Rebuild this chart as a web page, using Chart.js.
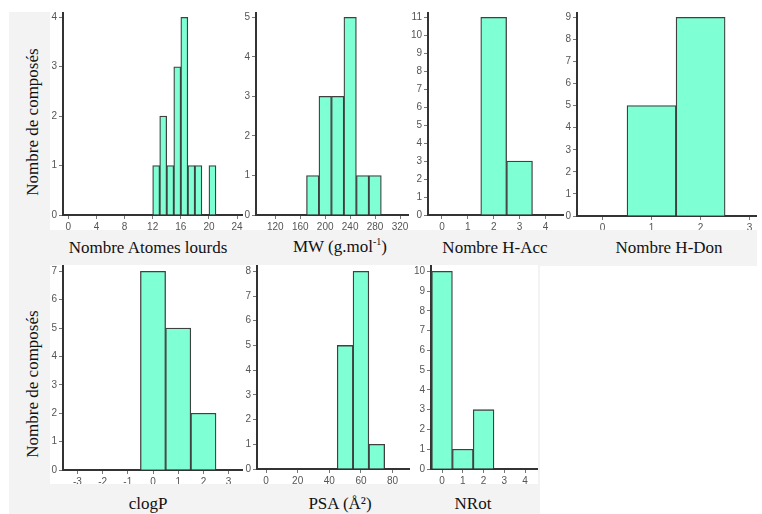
<!DOCTYPE html>
<html lang="fr">
<head>
<meta charset="utf-8">
<title>Distribution des descripteurs</title>
<script src="https://cdn.jsdelivr.net/npm/chart.js@4.4.1/dist/chart.umd.min.js"></script>
<style>
  html, body { margin: 0; padding: 0; background: #ffffff; }
  #page { position: relative; width: 762px; height: 514px; overflow: hidden; background: #ffffff; }
  .band { position: absolute; background: #f3f3f3; }
  .sheet { position: absolute; background: #ffffff; }
  canvas { position: absolute; }
  .xtitle, .ytitle {
    position: absolute;
    font-family: "Liberation Serif", "Times New Roman", serif;
    font-size: 17px;
    color: #111111;
    white-space: nowrap;
    line-height: 1;
  }
  .xtitle { transform: translate(-50%, -50%); }
  .ytitle { transform: translate(-50%, -50%) rotate(-90deg); }
  sup { font-size: 10px; vertical-align: 7px; line-height: 0; }
</style>
</head>
<body>
<div id="page">
  <div class="band" style="left:9px; top:12px; width:748px; height:254px;"></div>
  <div class="band" style="left:9px; top:266px; width:531px; height:248px;"></div>

  <div class="ytitle" style="left:32px; top:122px;">Nombre de composés</div>
  <div class="ytitle" style="left:32px; top:384px;">Nombre de composés</div>

  <div class="xtitle" style="left:148px; top:247px;">Nombre Atomes lourds</div>
  <div class="xtitle" style="left:340px; top:246px;">MW (g.mol<sup>-1</sup>)</div>
  <div class="xtitle" style="left:495px; top:247px;">Nombre H-Acc</div>
  <div class="xtitle" style="left:669px; top:247px;">Nombre H-Don</div>
  <div class="xtitle" style="left:148px; top:503px;">clogP</div>
  <div class="xtitle" style="left:340px; top:503px;">PSA (Å²)</div>
  <div class="xtitle" style="left:473px; top:503px;">NRot</div>
</div>

<script>
// bin centres and counts for each descriptor
const heavyAtomBins = [12.5, 13.5, 14.5, 15.5, 16.5, 17.5, 18.5, 20.5];
const heavyAtomCounts = [1, 2, 1, 3, 4, 1, 1, 1];
const heavyAtomTicks = [0, 4, 8, 12, 16, 20, 24];

const mwBins = [180, 200, 220, 240, 260, 280];
const mwCounts = [1, 3, 3, 5, 1, 1];
const mwTicks = [120, 160, 200, 240, 280, 320];

const hAccBins = [2, 3];
const hAccCounts = [11, 3];
const hAccTicks = [0, 1, 2, 3, 4];

const hDonBins = [1, 2];
const hDonCounts = [5, 9];
const hDonTicks = [0, 1, 2, 3];

const clogpBins = [0, 1, 2];
const clogpCounts = [7, 5, 2];
const clogpTicks = [-3, -2, -1, 0, 1, 2, 3];

const psaBins = [50, 60, 70];
const psaCounts = [5, 8, 1];
const psaTicks = [0, 20, 40, 60, 80];

const nrotBins = [0, 1, 2];
const nrotCounts = [10, 1, 3];
const nrotTicks = [0, 1, 2, 3, 4];

// layout: white sheet [left, top, right, bottom] and plot area inside it
const panels = [
  { sheet: [50, 12, 243, 230], area: [63, 12, 242, 215], xRange: [-0.75, 24.7], bins: heavyAtomBins, counts: heavyAtomCounts, ticks: heavyAtomTicks },
  { sheet: [243, 12, 410, 230], area: [256, 12, 408, 215], xRange: [89, 332.8], bins: mwBins, counts: mwCounts, ticks: mwTicks },
  { sheet: [410, 12, 564, 230], area: [428, 12, 563, 215], xRange: [-0.54, 4.68], bins: hAccBins, counts: hAccCounts, ticks: hAccTicks },
  { sheet: [564, 12, 757, 230], area: [577, 12, 757, 216], xRange: [-0.52, 3.15], bins: hDonBins, counts: hDonCounts, ticks: hDonTicks },
  { sheet: [50, 265, 243, 484], area: [63, 266, 243, 470], xRange: [-3.57, 3.57], bins: clogpBins, counts: clogpCounts, ticks: clogpTicks },
  { sheet: [243, 265, 410, 484], area: [257, 266, 410, 469], xRange: [-5.7, 91], bins: psaBins, counts: psaCounts, ticks: psaTicks },
  { sheet: [410, 265, 538, 484], area: [431, 266, 537, 469], xRange: [-0.53, 4.57], bins: nrotBins, counts: nrotCounts, ticks: nrotTicks },
];

const page = document.getElementById("page");
const tickFont = { family: "'Liberation Sans', Arial, sans-serif", size: 10 };
const tickColor = "#555555";
const axisColor = "#333333";

function makeHistogram(p) {
  const [sl, st, sr, sb] = p.sheet;
  const [al, at, ar, ab] = p.area;

  const sheet = document.createElement("div");
  sheet.className = "sheet";
  sheet.style.left = `${sl}px`;
  sheet.style.top = `${st}px`;
  sheet.style.width = `${sr - sl}px`;
  sheet.style.height = `${sb - st}px`;
  page.insertBefore(sheet, page.querySelector(".ytitle"));

  const canvas = document.createElement("canvas");
  canvas.width = sr - sl;
  canvas.height = sb - st;
  canvas.style.left = `${sl}px`;
  canvas.style.top = `${st}px`;
  page.appendChild(canvas);

  const topCount = Math.max(...p.counts);
  const yTicks = [];
  for (let v = 0; v <= topCount; v++) {
    yTicks.push(v);
  }
  const plotH = ab - at;
  const yMax = (topCount * plotH) / (plotH - 5.3);

  return new Chart(canvas, {
    type: "bar",
    data: {
      datasets: [
        {
          data: p.bins.map((x, i) => ({ x, y: p.counts[i] })),
          backgroundColor: "#7fffd4",
          borderColor: "#404040",
          borderWidth: 1.3,
          barPercentage: 1,
          categoryPercentage: 1,
        },
      ],
    },
    options: {
      responsive: false,
      animation: false,
      devicePixelRatio: 1,
      layout: { padding: { top: at - st, right: sr - ar, left: 0, bottom: 0 } },
      plugins: { legend: { display: false }, tooltip: { enabled: false } },
      scales: {
        x: {
          type: "linear",
          offset: false,
          min: p.xRange[0],
          max: p.xRange[1],
          afterBuildTicks: (s) => {
            s.ticks = p.ticks.map((v) => ({ value: v }));
          },
          afterFit: (s) => {
            s.height = sb - ab;
            s.paddingLeft = 0;
            s.paddingRight = 0;
          },
          grid: { drawOnChartArea: false, offset: false, tickLength: 4, tickColor: "#777777", tickWidth: 1 },
          border: { color: axisColor, width: 2 },
          ticks: { font: tickFont, color: tickColor, padding: 2, maxRotation: 0, autoSkip: false, callback: (v) => String(v) },
        },
        y: {
          type: "linear",
          min: 0,
          max: yMax,
          afterBuildTicks: (s) => {
            s.ticks = yTicks.map((v) => ({ value: v }));
          },
          afterFit: (s) => {
            s.width = al - sl;
            s.paddingTop = 0;
            s.paddingBottom = 0;
          },
          grid: { drawOnChartArea: false, tickLength: 4, tickColor: "#777777", tickWidth: 1 },
          border: { color: axisColor, width: 2 },
          ticks: { font: tickFont, color: tickColor, padding: 2, autoSkip: false, callback: (v) => String(v) },
        },
      },
    },
  });
}

panels.forEach(makeHistogram);
</script>
</body>
</html>
